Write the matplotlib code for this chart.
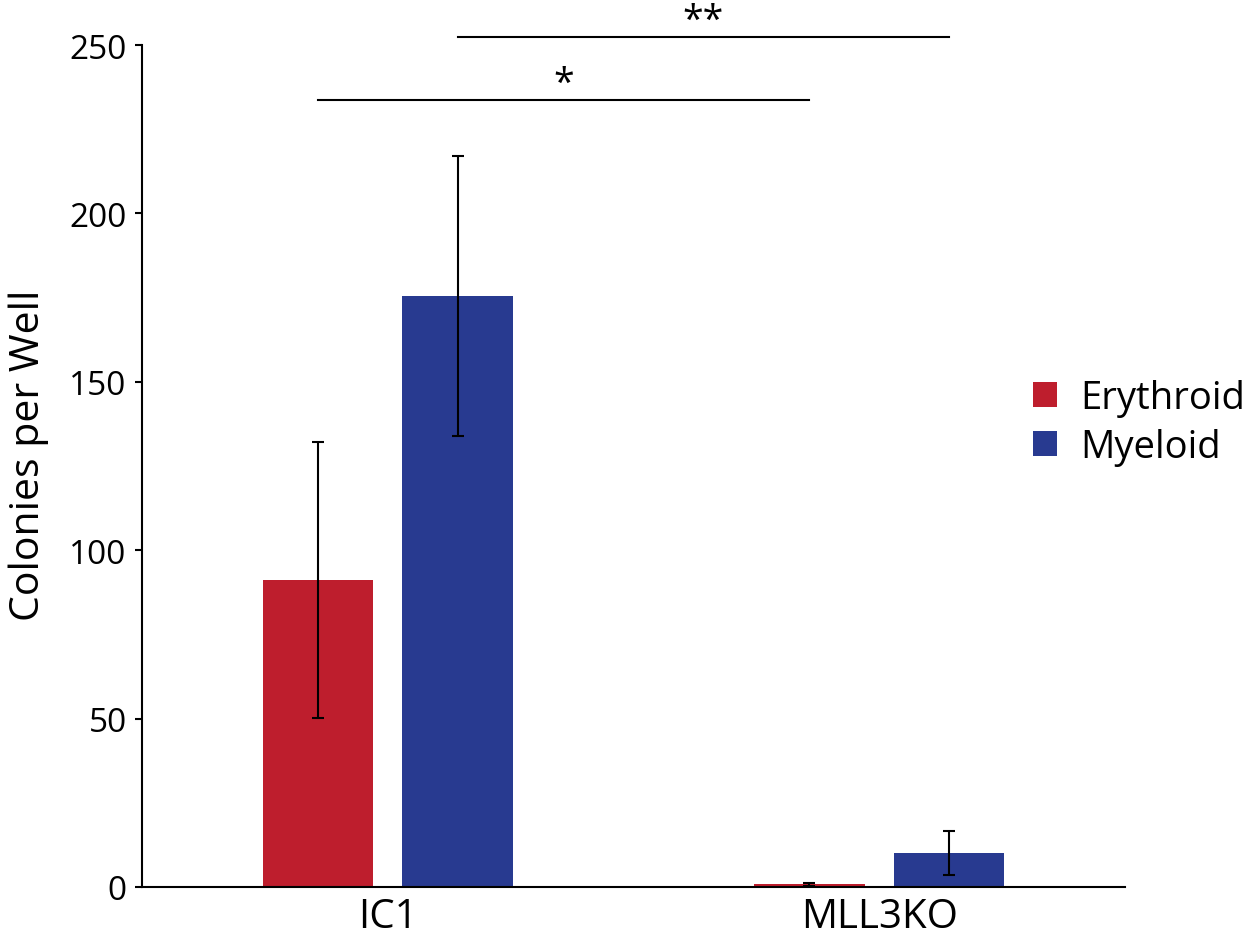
import matplotlib
matplotlib.use("Agg")
import matplotlib.pyplot as plt
import numpy as np
from matplotlib.patches import Patch

categories = ["IC1", "MLL3KO"]
series_names = ["Erythroid", "Myeloid"]
erythroid = [91.2, 0.8]
erythroid_err = [41.0, 0.5]
myeloid = [175.5, 10.0]
myeloid_err = [41.5, 6.5]
yticks = [0, 50, 100, 150, 200, 250]
sig_pairs = [(0, 0, 233.7, "*"), (1, 1, 252.4, "**")]  # (series, series, y, label)

colors = ["#BE1E2D", "#283A90"]

plt.rcParams['font.family'] = ['Open Sans', 'DejaVu Sans']

fig = plt.figure(figsize=(12.5, 9.37), dpi=100)
ax = fig.add_axes([0.1136, 0.0523, 0.9 - 0.1136, 0.9509 - 0.0523])

x = np.arange(len(categories))
w = 0.2254
off = 0.1421
ekw = dict(ecolor="black", elinewidth=1.5, capsize=4.5, capthick=1.5)
ax.bar(x - off, erythroid, w, color=colors[0], yerr=erythroid_err, error_kw=ekw, zorder=2)
ax.bar(x + off, myeloid, w, color=colors[1], yerr=myeloid_err, error_kw=ekw, zorder=2)

ax.set_xlim(-0.5, 1.5)
ax.set_ylim(0, 250)
ax.set_yticks(yticks)
ax.set_yticklabels([str(t) for t in yticks], fontsize=24)
ax.set_xticks(x)
ax.set_xticklabels(categories, fontsize=29)
ax.tick_params(axis="x", length=0, pad=7)
ax.tick_params(axis="y", length=5, width=1.5, pad=6, direction="out")
ax.spines["top"].set_visible(False)
ax.spines["right"].set_visible(False)
ax.spines["left"].set_linewidth(1.5)
ax.spines["bottom"].set_linewidth(1.5)
ax.set_ylabel("Colonies per Well", fontsize=29.5)
ax.yaxis.set_label_coords(-0.0945, 0.514)

offsets = [-off, off]
for s1, s2, yv, lab in sig_pairs:
    x1 = x[0] + offsets[s1]
    x2 = x[1] + offsets[s2]
    ax.plot([x1, x2], [yv, yv], color="black", lw=1.5, clip_on=False)
    ax.text((x1 + x2) / 2, yv + 1.7, lab, ha="center", va="baseline", fontsize=27, clip_on=False)

handles = [Patch(facecolor=c, edgecolor="none") for c in colors]
fig.legend(handles, series_names, loc="center left", bbox_to_anchor=(0.799, 0.548),
           frameon=False, fontsize=27.5, handlelength=0.62, handleheight=0.62,
           handletextpad=0.62, labelspacing=0.3)

fig.savefig("out.png", dpi=100)
